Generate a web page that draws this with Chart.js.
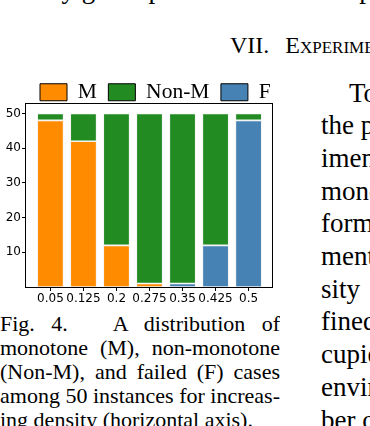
<!DOCTYPE html>
<html>
<head>
<meta charset="utf-8">
<script src="https://cdn.jsdelivr.net/npm/chart.js@4.4.0/dist/chart.umd.min.js"></script>
<style>
  html, body { margin: 0; padding: 0; background: #fff; }
  body {
    width: 370px; height: 426px; overflow: hidden; position: relative;
    font-family: 'Liberation Serif', 'Times New Roman', serif; color: #000;
  }
  .ln   { position: absolute; white-space: nowrap; overflow: hidden; }
  .body { font-size: 27px; line-height: 32.7px; height: 32.7px; }
  .cap  { font-size: 22px; line-height: 24px; height: 24px; left: 0; width: 280px; }
  .just { white-space: normal; text-align: justify; text-align-last: justify; }
  #chart-wrap { position: absolute; left: 0; top: 67px; width: 307px; height: 243px; }
  #heading { position: absolute; left: 230px; top: 33px; font-size: 24px; line-height: 24px;
             font-variant: small-caps; white-space: nowrap; }
</style>
</head>
<body>

<!-- last line of the text above (only the descenders show) -->
<div class="ln body" style="left:0; top:-27.5px; width:283px;">It is by grade partition of the</div>
<div class="ln body" style="left:321px; top:-27.5px; width:300px;">we propose the</div>

<div id="heading">VII.<span style="margin-left:16px">Experiments</span></div>

<div id="chart-wrap"><canvas id="dist-canvas" width="307" height="243"></canvas></div>

<!-- caption -->
<div class="ln cap just" style="top:311.6px;">Fig. 4.<span style="display:inline-block;width:30px"></span> A distribution of</div>
<div class="ln cap just" style="top:335.6px;">monotone (M), non-monotone</div>
<div class="ln cap just" style="top:359.6px;">(Non-M), and failed (F) cases</div>
<div class="ln cap just" style="top:383.6px;">among 50 instances for increas-</div>
<div class="ln cap" style="top:407.6px;">ing density (horizontal axis).</div>

<!-- right column -->
<div class="ln body" style="left:321px; top:76.5px; text-indent:28px;">To evaluate the</div>
<div class="ln body" style="left:321px; top:109.2px;">the proposed</div>
<div class="ln body" style="left:321px; top:141.9px;">iments on</div>
<div class="ln body" style="left:321px; top:174.6px;">monotone</div>
<div class="ln body" style="left:321px; top:207.3px;">formations</div>
<div class="ln body" style="left:321px; top:240.0px;">ment with</div>
<div class="ln body" style="left:321px; top:272.7px;">sity &nbsp; which</div>
<div class="ln body" style="left:321px; top:305.4px;">fined as the</div>
<div class="ln body" style="left:321px; top:338.1px;">cupied cells</div>
<div class="ln body" style="left:321px; top:370.8px;">environment</div>
<div class="ln body" style="left:321px; top:403.5px;">ber of cells</div>

<script>
// ─── DATA ─────────────────────────────────────────────────────
const DENSITY  = ['0.05', '0.125', '0.2', '0.275', '0.35', '0.425', '0.5'];
const MONOTONE = [48, 42, 12, 1, 0, 0, 0];
const NON_MONO = [2, 8, 38, 49, 49, 38, 2];
const FAILED   = [0, 0, 0, 0, 1, 12, 48];
const Y_TICKS  = [10, 20, 30, 40, 50];
const SERIES   = ['M', 'Non-M', 'F'];

(function () {
  'use strict';

  const tickFont = { family: 'DejaVu Sans', size: 12 };
  const LEGEND_X = 40;      // left edge of the first legend box
  const LEGEND_PAD = 11.5;
  const toPoints = arr => arr.map((v, i) => ({ x: i, y: v }));

  const barStyle = {
    borderColor: 'rgba(225,225,225,0.6)',
    borderWidth: 0.8,
    borderSkipped: false,
    categoryPercentage: 1,
    barPercentage: 0.8,
  };

  const axisGrid = {
    display: true,
    drawOnChartArea: false,
    drawTicks: true,
    tickLength: 4,
    color: '#000',
    lineWidth: 1,
  };

  // legend: one row, tighter height, starting where the reference does
  const legendPlace = {
    id: 'legendPlace',
    beforeInit(chart) {
      const fit = chart.legend.fit;
      chart.legend.fit = function () {
        this.maxWidth = 400;
        fit.call(this);
        this.height -= 10;
      };
    },
    afterLayout(chart) {
      chart.legend.left = LEGEND_X - LEGEND_PAD;
      chart.legend.right = 400;
    },
  };

  // full black box around the plot area
  const frame = {
    id: 'frame',
    afterDatasetsDraw(chart) {
      const { ctx, chartArea: a } = chart;
      ctx.save();
      ctx.strokeStyle = '#000';
      ctx.lineWidth = 1;
      ctx.strokeRect(Math.round(a.left) - 0.5, Math.round(a.top) + 0.5,
                     Math.round(a.right - a.left), Math.round(a.bottom - a.top));
      ctx.restore();
    },
  };

  new Chart(document.getElementById('dist-canvas'), {
    type: 'bar',
    data: {
      datasets: [
        { label: 'M',     data: toPoints(MONOTONE), backgroundColor: '#FF8C00', ...barStyle },
        { label: 'F',     data: toPoints(FAILED),   backgroundColor: '#4682B4', ...barStyle },
        { label: 'Non-M', data: toPoints(NON_MONO), backgroundColor: '#228B22', ...barStyle },
      ],
    },
    options: {
      responsive: false,
      animation: false,
      devicePixelRatio: 1,
      layout: { padding: { left: 0, right: 34, top: 3, bottom: 0 } },
      plugins: {
        tooltip: { enabled: false },
        legend: {
          position: 'top',
          align: 'start',
          labels: {
            boxWidth: 27,
            boxHeight: 17,
            padding: LEGEND_PAD,
            color: '#000',
            font: { family: 'Liberation Serif', size: 21.5 },
            sort: (a, b) => SERIES.indexOf(a.text) - SERIES.indexOf(b.text),
            generateLabels: chart =>
              Chart.defaults.plugins.legend.labels.generateLabels(chart)
                .map(l => Object.assign(l, { strokeStyle: '#000', lineWidth: 1 })),
          },
        },
      },
      scales: {
        x: {
          type: 'linear',
          stacked: true,
          offset: false,
          min: -0.74,
          max: 6.74,
          afterBuildTicks: s => { s.ticks = DENSITY.map((_, i) => ({ value: i })); },
          afterFit: s => { s.height = 23; },
          grid: { ...axisGrid, offset: false },
          border: { display: false },
          ticks: {
            autoSkip: false, maxRotation: 0, padding: 1, color: '#000', font: tickFont,
            callback: v => DENSITY[v],
          },
        },
        y: {
          stacked: true,
          min: 0,
          max: 53,
          afterBuildTicks: s => { s.ticks = Y_TICKS.map(v => ({ value: v })); },
          afterFit: s => { s.width = 26; },
          grid: axisGrid,
          border: { display: false },
          ticks: { padding: 1, color: '#000', font: tickFont },
        },
      },
    },
    plugins: [legendPlace, frame],
  });
})();
</script>
</body>
</html>
